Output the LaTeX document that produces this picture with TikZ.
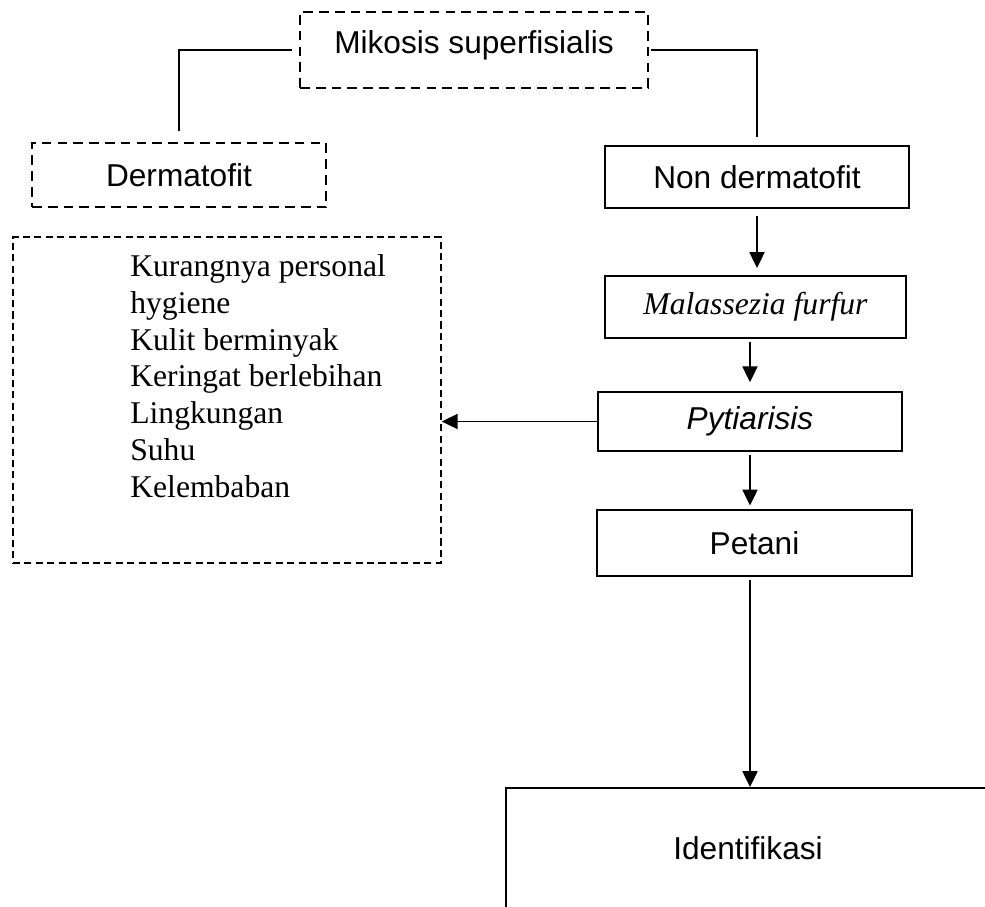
\documentclass[tikz,border=0pt]{standalone}
\usepackage{fontspec}
\setmainfont{Liberation Serif}
\setsansfont{Liberation Sans}
\usetikzlibrary{arrows.meta}
\pgfmathsetmacro{\kotakLebar}{6.08}
\pgfmathsetmacro{\kotakTinggi}{1.24}
\tikzset{
	kotak/.style= {
		shape=rectangle, draw, line width=1.1pt,
		inner sep=0,
		minimum width=\kotakLebar cm, minimum height=\kotakTinggi cm,
		font=\sffamily\fontsize{18}{21}\selectfont
	},
	kotakputus/.style= {
		kotak, line width=1.3pt, dash pattern=on 5.5pt off 3.5pt % dashed is too short here
	},
	garis/.style= {line width=1.1pt},
	panah/.style= {garis, -{Triangle[length=9pt,width=8.5pt]}}
}

\begin{document}
\begin{tikzpicture}[x=0.02cm,y=-0.02cm]
\useasboundingbox (0,0) rectangle (985,907);
\clip (0,0) rectangle (985,907);

% top and left branch
\node[kotakputus, minimum width=6.96cm, minimum height=1.52cm, text height=0.46cm, text depth=0.34cm] (mikosis) at (474,50) {Mikosis superfisialis\hspace{0.44cm}};
\node[kotakputus, minimum width=5.88cm, minimum height=1.28cm] (dermatofit) at (179,175) {Dermatofit};
\node[kotakputus, line width=0.9pt, dash pattern=on 4pt off 2.5pt, minimum width=8.56cm, minimum height=6.52cm] (faktor) at (227,400) {};
\node[anchor=north west, inner sep=0, align=left, font=\fontsize{18}{21}\selectfont] (faktorteks) at (130,254) {Kurangnya personal\\hygiene\\Kulit berminyak\\Keringat berlebihan\\Lingkungan\\Suhu\\Kelembaban};

% right column
\node[kotak] (nondermatofit) at (757,177) {Non dermatofit};
\node[kotak, minimum width=6.02cm, font=\itshape\fontsize{18}{21}\selectfont] (malassezia) at (755.5,307) {Malassezia furfur};
\node[kotak, minimum height=1.18cm, font=\sffamily\itshape\fontsize{18}{21}\selectfont] (pytiarisis) at (750,421.5) {Pytiarisis};
\node[kotak, minimum width=6.3cm, minimum height=1.32cm] (petani) at (754.5,543) {Petani};
\node[kotak, minimum width=9.68cm, minimum height=2.4cm] (identifikasi) at (748,848) {Identifikasi};

% connectors
\draw[garis, shorten <=4pt, shorten >=6pt] (mikosis.west) -| (dermatofit.north);
\draw[garis, shorten <=1pt, shorten >=4.5pt] (mikosis.east) -| (nondermatofit.north);
\draw[panah, shorten <=4pt, shorten >=4pt] (nondermatofit.south) -- (nondermatofit.south |- malassezia.north);
\draw[panah, shorten <=2pt, shorten >=5pt] (pytiarisis.north |- malassezia.south) -- (pytiarisis.north);
\draw[panah] (pytiarisis.west) -- (pytiarisis.west -| faktor.east);
\draw[panah, shorten <=2pt, shorten >=2pt] (pytiarisis.south) -- (pytiarisis.south |- petani.north);
\draw[panah, shorten <=2pt] (pytiarisis.south |- petani.south) -- (pytiarisis.south |- identifikasi.north);
\end{tikzpicture}
\end{document}
